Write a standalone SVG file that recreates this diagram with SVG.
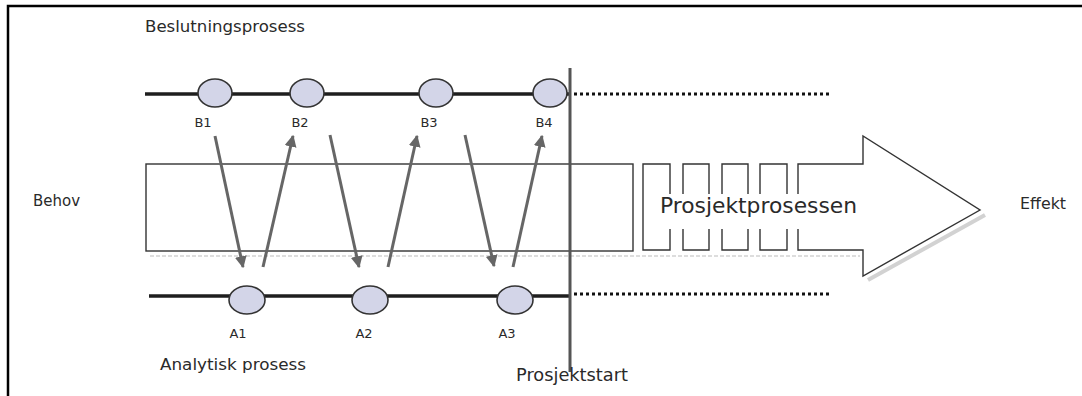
<svg xmlns="http://www.w3.org/2000/svg" width="1082" height="396" viewBox="0 0 1082 396">
  <style>
    .lbl { font-family: "DejaVu Sans", "Liberation Sans", sans-serif; fill: #2a2a2a; }
    .track { stroke: #1e1e1e; stroke-width: 3.5; fill: none; }
    .dots { stroke: #111; stroke-width: 3; stroke-dasharray: 3 3; fill: none; }
    .node { fill: #d3d5e8; stroke: #333; stroke-width: 1.6; }
    .flow { stroke: #666; stroke-width: 3; fill: none; marker-end: url(#head); }
    .outline { fill: #fff; stroke: #333; stroke-width: 1.4; }
    .shade { stroke: #d2d2d2; fill: none; }
  </style>
  <defs>
    <marker id="head" viewBox="0 0 10 10" refX="9" refY="5" markerWidth="4" markerHeight="4" orient="auto" markerUnits="strokeWidth">
      <path d="M0,0 L10,5 L0,10 z" fill="#666"/>
    </marker>
  </defs>
  <rect width="1082" height="396" fill="#fff"/>
  <!-- frame -->
  <g id="frame" stroke="#000" stroke-width="2.5" fill="none">
    <path d="M8,396 V6 H1082"/>
  </g>

  <!-- project process band -->
  <g id="band">
    <!-- soft print shadow under the band and the arrow head -->
    <line class="shade" x1="150" y1="256" x2="860" y2="256" stroke-width="1.6" stroke-dasharray="4 2"/>
    <line class="shade" x1="868" y1="280" x2="985" y2="215" stroke-width="4"/>
    <rect class="outline" x="146" y="164" width="487" height="87"/>
    <g class="outline">
      <path d="M670,194 V164 H643 V250 H670 V229" fill="none"/>
      <path d="M683,194 V164 H709 V194 M683,229 V250 H709 V229" fill="none"/>
      <path d="M722,194 V164 H748 V194 M722,229 V250 H748 V229" fill="none"/>
      <path d="M760,194 V164 H787 V194 M760,229 V250 H787 V229" fill="none"/>
      <path d="M798,194 V164 H863 V136 L980,210 L863,276 V250 H798 V229" fill="#fff"/>
    </g>
    <text class="lbl" x="660" y="213" font-size="22" textLength="197" lengthAdjust="spacingAndGlyphs">Prosjektprosessen</text>
  </g>

  <!-- decision track -->
  <g id="decision-track">
    <line class="track" x1="145" y1="94" x2="570" y2="94"/>
    <line class="dots" x1="574" y1="94" x2="830" y2="94"/>
    <text class="lbl" x="145" y="32" font-size="15" textLength="160" lengthAdjust="spacingAndGlyphs">Beslutningsprosess</text>
  </g>
  <g id="B1"><ellipse class="node" cx="215" cy="93" rx="17" ry="14"/><text class="lbl" x="203" y="127" font-size="13" text-anchor="middle">B1</text></g>
  <g id="B2"><ellipse class="node" cx="307" cy="93" rx="17" ry="14"/><text class="lbl" x="300" y="127" font-size="13" text-anchor="middle">B2</text></g>
  <g id="B3"><ellipse class="node" cx="436" cy="93" rx="17" ry="14"/><text class="lbl" x="429" y="127" font-size="13" text-anchor="middle">B3</text></g>
  <g id="B4"><ellipse class="node" cx="550" cy="93" rx="17" ry="14"/><text class="lbl" x="544" y="127" font-size="13" text-anchor="middle">B4</text></g>

  <!-- analytic track -->
  <g id="analytic-track">
    <line class="track" x1="149" y1="296" x2="570" y2="296"/>
    <line class="dots" x1="574" y1="294" x2="830" y2="294"/>
    <text class="lbl" x="160" y="370" font-size="16" textLength="146" lengthAdjust="spacingAndGlyphs">Analytisk prosess</text>
  </g>
  <g id="A1"><ellipse class="node" cx="247" cy="300" rx="18" ry="14"/><text class="lbl" x="238" y="338" font-size="13" text-anchor="middle">A1</text></g>
  <g id="A2"><ellipse class="node" cx="370" cy="300" rx="18" ry="14"/><text class="lbl" x="364" y="338" font-size="13" text-anchor="middle">A2</text></g>
  <g id="A3"><ellipse class="node" cx="515" cy="300" rx="18" ry="14"/><text class="lbl" x="507" y="338" font-size="13" text-anchor="middle">A3</text></g>

  <!-- project start -->
  <g id="project-start">
    <line x1="570" y1="68" x2="570" y2="372" stroke="#555" stroke-width="3"/>
    <text class="lbl" x="516" y="381" font-size="17" textLength="112" lengthAdjust="spacingAndGlyphs">Prosjektstart</text>
  </g>

  <g id="behov"><text class="lbl" x="33" y="206" font-size="16" textLength="47" lengthAdjust="spacingAndGlyphs">Behov</text></g>
  <g id="effekt"><text class="lbl" x="1020" y="209" font-size="15" textLength="46" lengthAdjust="spacingAndGlyphs">Effekt</text></g>

  <!-- connectors -->
  <g id="connectors">
    <line class="flow" x1="215" y1="136" x2="243" y2="267"/>
    <line class="flow" x1="263" y1="267" x2="293" y2="136"/>
    <line class="flow" x1="330" y1="135" x2="359" y2="267"/>
    <line class="flow" x1="388" y1="267" x2="417" y2="136"/>
    <line class="flow" x1="465" y1="135" x2="494" y2="266"/>
    <line class="flow" x1="513" y1="267" x2="542" y2="136"/>
  </g>
</svg>
